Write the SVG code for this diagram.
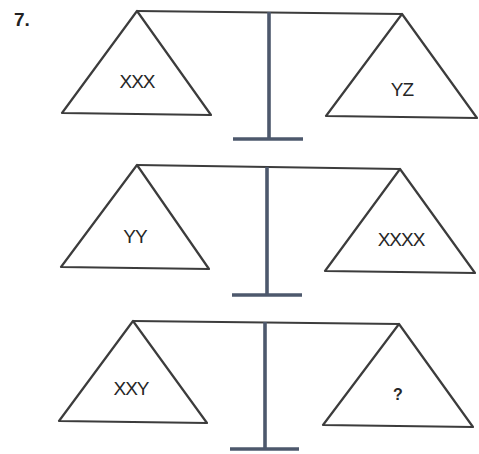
<svg xmlns="http://www.w3.org/2000/svg" width="479" height="454" viewBox="0 0 479 454">
<style>
.pan{fill:none;stroke:#3c3c3c;stroke-width:2.2;stroke-linejoin:round}
.beam{stroke:#3c3c3c;stroke-width:2.2}
.post{stroke:#4d586c;stroke-width:3.6}
.lbl{font-family:"Liberation Sans",Arial,sans-serif;font-size:19px;fill:#262626;text-anchor:middle;letter-spacing:-1px}
</style>
<rect width="479" height="454" fill="#fff"/>
<text x="14" y="26" font-family="Liberation Sans,Arial,sans-serif" font-size="19" font-weight="bold" fill="#222">7.</text>
<g id="connectors">
<line class="beam" x1="137" y1="11" x2="402" y2="14"/>
<line class="post" x1="269" y1="12" x2="269" y2="139"/>
<line class="post" x1="233" y1="139" x2="303" y2="139"/>
<line class="beam" x1="137" y1="165" x2="400" y2="169"/>
<line class="post" x1="267" y1="167" x2="267" y2="295"/>
<line class="post" x1="232" y1="295" x2="302" y2="295"/>
<line class="beam" x1="133" y1="321" x2="399" y2="324"/>
<line class="post" x1="265" y1="322" x2="265" y2="449"/>
<line class="post" x1="230" y1="449" x2="299" y2="449"/>
</g>
<g id="pan1L"><polygon class="pan" points="137,11 211,115 62,113"/><text class="lbl" x="137" y="88">XXX</text></g>
<g id="pan1R"><polygon class="pan" points="402,14 477,118 326,116"/><text class="lbl" x="402" y="96">YZ</text></g>
<g id="pan2L"><polygon class="pan" points="137,165 209,269 61,267"/><text class="lbl" x="135" y="243">YY</text></g>
<g id="pan2R"><polygon class="pan" points="400,169 475,273 325,271"/><text class="lbl" x="401" y="246">XXXX</text></g>
<g id="pan3L"><polygon class="pan" points="133,321 207,423 59,421"/><text class="lbl" x="131" y="395">XXY</text></g>
<g id="pan3R"><polygon class="pan" points="399,324 473,427 323,425"/><text x="398" y="400" font-family="Liberation Sans,Arial,sans-serif" font-size="16" font-weight="bold" fill="#262626" text-anchor="middle">?</text></g>
</svg>
